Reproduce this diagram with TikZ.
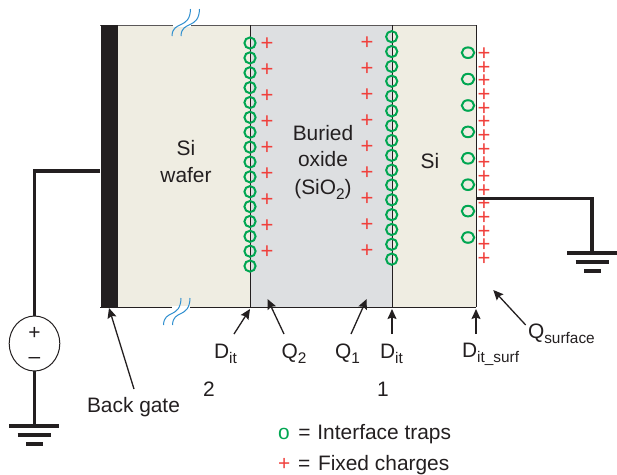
\documentclass[tikz,border=0pt]{standalone}
\usepackage{fontspec}
\setmainfont{Liberation Sans}
\usetikzlibrary{arrows.meta,shapes.geometric}
\definecolor{ink}{HTML}{231F20}
\definecolor{beige}{HTML}{EFEDE2}
\definecolor{oxide}{HTML}{DDDFE1}
\definecolor{trap}{HTML}{00A651}
\definecolor{charge}{HTML}{F0403C}
\definecolor{brk}{HTML}{2F8FCF}
\tikzset{
  lbl/.style={anchor=base west,inner sep=0pt,outer sep=0pt,text=ink,font=\fontsize{20.9pt}{24pt}\selectfont},
  ctr/.style={anchor=base,inner sep=0pt,outer sep=0pt,text=ink,font=\fontsize{20.9pt}{24pt}\selectfont},
  fixedq/.style={inner sep=0pt,outer sep=0pt,text=charge,font=\fontsize{22pt}{24pt}\selectfont},
  trapo/.style={draw=trap,line width=2pt},
  wire/.style={draw=ink,line width=3.2pt},
  gnd/.style={draw=ink,line width=3.2pt},
  ptr/.style={draw=ink,line width=1.3pt,-{Stealth[length=10pt,width=9pt,inset=1.5pt]}},
  breakline/.style={draw=brk,line width=1pt},
  edge/.style={draw=ink,line width=1pt},
  source/.style={draw=ink,line width=1pt,ellipse,fill=white,minimum width=50.6pt,minimum height=55pt,inner sep=0pt,outer sep=0pt},
}
\newcommand{\sbs}[1]{\raisebox{-5pt}{\fontsize{15.4pt}{17pt}\selectfont #1}}
\begin{document}
\begin{tikzpicture}[x=1pt,y=-1pt]
\useasboundingbox (0,0) rectangle (617,474);
% regions
\fill[beige] (118,25) rectangle (250.5,307);
\fill[oxide] (250.5,25) rectangle (392,307);
\fill[beige] (392,25) rectangle (476,307);
\draw[edge,draw=ink!75] (100,25) -- (476,25);
\draw[edge] (100,307.3) -- (476,307.3);
\draw[edge] (250.5,25) -- (250.5,307.3);
\draw[edge] (392,25) -- (392,307.3);
\draw[edge] (476,25) -- (476,307.3);
\fill[ink] (100.5,25) rectangle (118,307.5);
% axis breaks
\fill[white] (173,23.5) rectangle (191,26.5);
\fill[white] (172,305.5) rectangle (190,309);
\draw[breakline] (172,36) .. controls (172.5,20) and (190,30) .. (190.5,9);
\draw[breakline] (181,36) .. controls (181.5,20) and (199,30) .. (199.5,9);
\draw[breakline] (163.5,325) .. controls (164,309) and (180.5,319) .. (181,298);
\draw[breakline] (172.5,325) .. controls (173,309) and (189.5,319) .. (190,298);
% interface traps
\foreach \i in {0,...,15}{
  \draw[trapo] (250,43+14.87*\i) circle[radius=5.6];
  \draw[trapo] (391.7,36.7+14.83*\i) circle[radius=5.6];
}
\foreach \i in {0,...,7}
  \draw[trapo] (468,52.7+26.4*\i) ellipse[x radius=6.2,y radius=5.3];
% fixed charges
\foreach \i in {0,...,8}{
  \node[fixedq] (fa\i) at (267,44.5+25.9*\i) {+};
  \node[fixedq] (fb\i) at (367,43.5+26*\i) {+};
}
\foreach \i in {0,...,15}
  \node[fixedq] (fc\i) at (484,54.2+13.67*\i) {+};
% region labels
\node[ctr] (siwafer1) at (186,155) {Si};
\node[ctr] (siwafer2) at (186,182) {wafer};
\node[ctr] (ox1) at (323,140) {Buried};
\node[ctr] (ox2) at (323,166) {oxide};
\node[ctr] (ox3) at (323,194) {(SiO\sbs{2})};
\node[ctr] (si) at (430,168) {Si};
% back-gate circuit
\coordinate (bgw) at (100,171);
\coordinate (bgc) at (34.5,171);
\node[source] (src) at (34.5,343.5) {};
\coordinate (g1) at (34.5,426);
\draw[wire] (bgw) -- (bgc) -- (src.north);
\draw[wire] (src.south) -- (g1);
\node[ctr,anchor=center] (plus) at (34.5,333) {+};
\node[ctr,anchor=center] (minus) at (34.5,360) {–};
\draw[gnd] (9,426) -- (59,426);
\draw[gnd] (17.5,435) -- (51,435);
\draw[gnd] (26,444) -- (42.5,444);
% right ground
\coordinate (sw) at (476,198.3);
\coordinate (sc) at (592,198.3);
\coordinate (g2) at (592,253);
\draw[wire] (sw) -- (sc) -- (g2);
\draw[gnd] (567,253) -- (617,253);
\draw[gnd] (575.5,262) -- (609,262);
\draw[gnd] (584,271) -- (600.5,271);
% labels
\node[lbl] (backgate) at (87,412) {Back gate};
\node[lbl] (dit1) at (214,358) {D\sbs{it}};
\node[lbl] (q2) at (281.5,358) {Q\sbs{2}};
\node[lbl] (q1) at (335,358) {Q\sbs{1}};
\node[lbl] (dit2) at (380,358) {D\sbs{it}};
\node[lbl] (ditsurf) at (462,357) {D\sbs{it\_surf}};
\node[lbl] (qsurf) at (528,338) {Q\sbs{surface}};
\node[lbl] (two) at (203,396) {2};
\node[lbl] (one) at (377,396) {1};
\node[lbl] (leg1) at (278,439) {\textcolor{trap}{o}\hspace{3pt} = \hspace{1pt}Interface traps};
\node[lbl] (leg2) at (278,470.7) {\textcolor{charge}{+}\hspace{2pt} = \hspace{2pt}Fixed charges};
% pointers
\coordinate (tbg) at (109,308);
\coordinate (tdit1) at (250,309);
\coordinate (tq2) at (267.5,299);
\coordinate (tq1) at (366.7,299);
\coordinate (tdit2) at (392,309);
\coordinate (tsurf) at (476,309);
\coordinate (tqs) at (493.3,290);
\coordinate (sbg) at (134,389);
\coordinate (sdit1) at (234,334);
\coordinate (sq2) at (284,334);
\coordinate (sq1) at (351,334);
\coordinate (sdit2) at (392,334);
\coordinate (ssurf) at (476,334);
\coordinate (sqs) at (525.7,325);
\draw[ptr] (sbg) -- (tbg);
\draw[ptr] (sdit1) -- (tdit1);
\draw[ptr] (sq2) -- (tq2);
\draw[ptr] (sq1) -- (tq1);
\draw[ptr] (sdit2) -- (tdit2);
\draw[ptr] (ssurf) -- (tsurf);
\draw[ptr] (sqs) -- (tqs);
\end{tikzpicture}
\end{document}
